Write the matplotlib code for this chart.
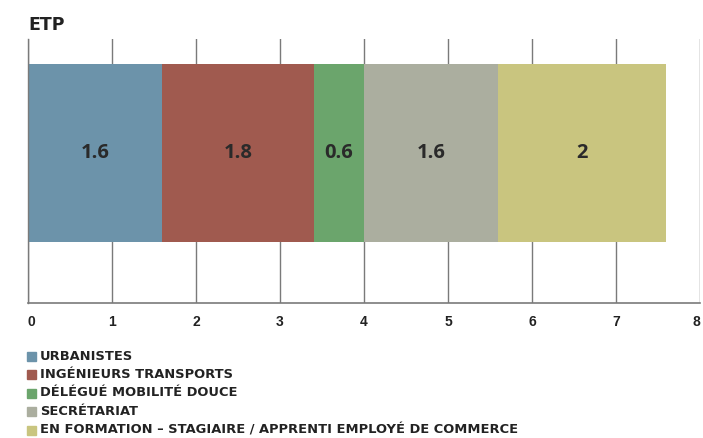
import matplotlib
matplotlib.use("Agg")
import matplotlib.pyplot as plt
from matplotlib.patches import Rectangle

categories = ["URBANISTES", "INGÉNIEURS TRANSPORTS", "DÉLÉGUÉ MOBILITÉ DOUCE",
              "SECRÉTARIAT", "EN FORMATION – STAGIAIRE / APPRENTI EMPLOYÉ DE COMMERCE"]
values = [1.6, 1.8, 0.6, 1.6, 2]
value_labels = ["1.6", "1.8", "0.6", "1.6", "2"]
colors = ["#6C93AA", "#A05A4F", "#6BA56C", "#ABAE9F", "#C9C57F"]
xticks = [0, 1, 2, 3, 4, 5, 6, 7, 8]
title = "ETP"

W, H = 703, 438
fig = plt.figure(figsize=(W / 100, H / 100), dpi=100)
ax = fig.add_axes([28 / W, 1 - 303 / H, (700 - 28) / W, (303 - 39) / H])
ax.set_xlim(0, 8)
ax.set_ylim(0, 264)

grid_c = "#7a7a7a"
for x in xticks:
    ax.axvline(x, color=grid_c, lw=1.0, zorder=1)

left = 0
for v, lab, c in zip(values, value_labels, colors):
    ax.barh(150, v, left=left, height=178, color=c, zorder=2)
    ax.text(left + v / 2, 150, lab, ha="center", va="center",
            fontsize=14.5, fontweight="bold", family="Open Sans", color="#2a2a2a", zorder=3)
    left += v

for s in ["top", "right"]:
    ax.spines[s].set_visible(False)
ax.spines["left"].set_color(grid_c)
ax.spines["bottom"].set_color(grid_c)
ax.spines["left"].set_linewidth(1.0)
ax.spines["bottom"].set_linewidth(1.2)
ax.set_yticks([])
ax.set_xticks(xticks)
ax.set_xticklabels([str(t) for t in xticks], fontsize=10, fontweight="bold",
                   family="Liberation Sans", color="#222222")
ax.tick_params(axis="x", length=0, pad=9)
ax.get_xticklabels()[0].set_horizontalalignment("left")
ax.get_xticklabels()[-1].set_horizontalalignment("right")

fig.text(28 / W, 1 - 25 / H, title, ha="left", va="center", fontsize=12.5,
         fontweight="bold", family="DejaVu Sans", color="#222222")

y0 = 356
for i, (cat, c) in enumerate(zip(categories, colors)):
    yc = y0 + i * 18.5
    fig.patches.append(Rectangle((27 / W, 1 - (yc + 4.5) / H), 9 / W, 9 / H,
                                 transform=fig.transFigure, color=c, figure=fig))
    fig.text(40 / W, 1 - yc / H, cat, ha="left", va="center", fontsize=9.4,
             fontweight="bold", family="DejaVu Sans", color="#222222")

fig.savefig("out.png", dpi=100)
